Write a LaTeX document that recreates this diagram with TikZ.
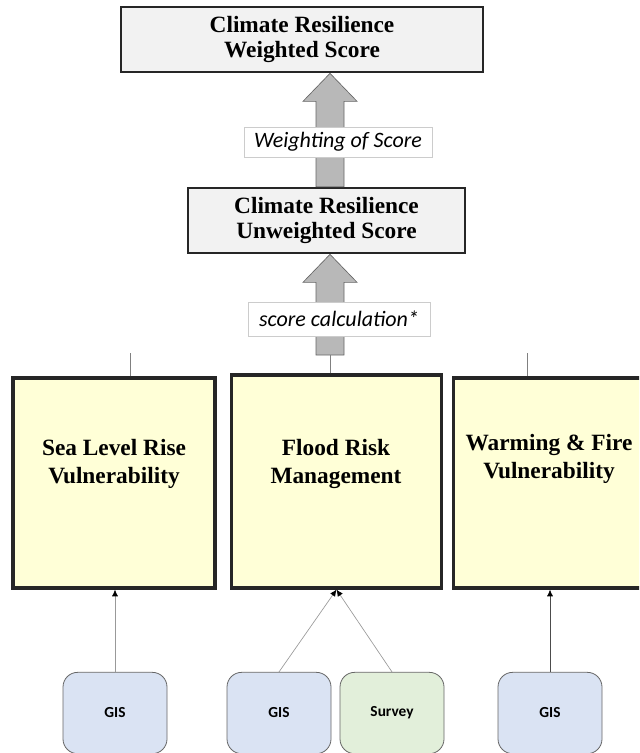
\documentclass[tikz,border=0pt]{standalone}
\usepackage{fontspec}
\setmainfont{Liberation Serif}
\newfontfamily\labelfont{Carlito}
\usetikzlibrary{calc,arrows.meta}
\definecolor{scoregray}{HTML}{F2F2F2}
\definecolor{pillaryellow}{HTML}{FFFFD7}
\definecolor{gisblue}{HTML}{DAE3F3}
\definecolor{surveygreen}{HTML}{E2EFDA}
\tikzset{
  scorebox/.style={draw=black!85,line width=2pt,fill=scoregray,inner sep=0pt,
    font=\bfseries\fontsize{17.5}{19}\selectfont,align=center},
  pillar/.style={draw=black!85,line width=2.4pt,fill=pillaryellow,inner sep=0pt},
  pillartitle/.style={font=\bfseries\fontsize{17.5}{21}\selectfont,align=center},
  source/.style={draw=black!60,line width=0.6pt,rounded corners=11pt,
    minimum width=78pt,minimum height=61pt,font=\labelfont\bfseries\fontsize{11.5}{13}\selectfont},
  steplabel/.style={draw=black!20,line width=0.4pt,fill=white,inner sep=0pt,
    font=\labelfont\itshape\fontsize{16.5}{18}\selectfont},
  feed/.style={draw=black!40,line width=0.5pt,-{Latex[length=5pt,width=4.5pt,color=black]}},
  stub/.style={draw=black!50,line width=0.5pt},
  fat/.style={fill=black!28,draw=black!60,line width=0.5pt}
}
% block arrow: tip, tail
\newcommand\fatarrow[2]{%
  \draw[fat] (#1) -- ++(27,28) -- ++(-13,0) -- ($(#2)+(14,0)$)
    -- ($(#2)+(-14,0)$) -- ($(#1)+(-14,28)$) -- ++(-13,0) -- cycle;}
\begin{document}
\begin{tikzpicture}[x=0.75pt,y=-0.75pt]
\clip (0,0) rectangle (639,753);
\useasboundingbox (0,0) rectangle (639,753);
\coordinate (spine) at (330,0);
% scores
\node[scorebox,minimum width=271.5pt,minimum height=48.75pt] (weighted) at (302,39.5)
  {Climate Resilience\\Weighted Score};
\node[scorebox,minimum width=207.75pt,minimum height=48.75pt] (unweighted) at (326.5,220.5)
  {Climate Resilience\\Unweighted Score};
% pillars
\node[pillar,minimum width=151.5pt,minimum height=157.5pt] (slr) at (114,483) {};
\node[pillar,minimum width=158pt,minimum height=159.75pt] (flood) at (336.5,481.5) {};
\node[pillar,minimum width=154pt,minimum height=157.5pt] (warm) at (556,483) {};
\node[pillartitle] (slrT) at (114,464) {Sea Level Rise\\Vulnerability};
\node[pillartitle] (floodT) at (336,464) {Flood Risk\\Management};
\node[pillartitle] (warmT) at (549,459) {Warming \& Fire\\Vulnerability};
% arrows between scores
\coordinate (calcTail) at (330,355);
\fatarrow{weighted.south -| spine}{unweighted.north -| spine}
\fatarrow{unweighted.south -| spine}{calcTail}
\draw[stub] (flood.north -| spine) -- (calcTail);
\coordinate (slrStub) at (130,353);
\coordinate (warmStub) at (527,353);
\draw[stub] (slr.north -| slrStub) -- (slrStub);
\draw[stub] (warm.north -| warmStub) -- (warmStub);
\node[steplabel,minimum width=141pt,minimum height=22.5pt] (weighting) at (338,142) {Weighting of Score};
\node[steplabel,minimum width=136.5pt,minimum height=25.5pt] (calculation) at (339,319) {score calculation*};
% sources
\node[source,fill=gisblue] (gisA) at (115,713) {GIS};
\node[source,fill=gisblue] (gisB) at (279,713) {GIS};
\node[source,fill=surveygreen] (survey) at (392,713) {Survey};
\node[source,fill=gisblue] (gisC) at (550,713) {GIS};
\draw[feed] (gisA.north) -- (gisA.north |- slr.south);
\draw[feed] (gisB.north) -- (flood.south);
\draw[feed] (survey.north) -- (flood.south);
\draw[feed,draw=black!70] (gisC.north) -- (gisC.north |- warm.south);
\end{tikzpicture}
\end{document}
